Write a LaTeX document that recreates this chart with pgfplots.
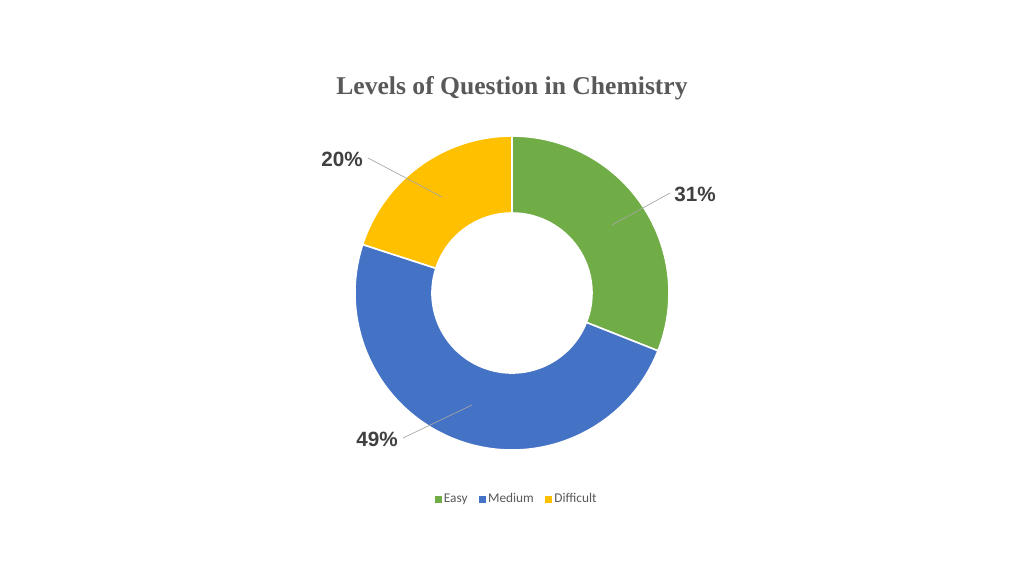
\documentclass[border=0pt]{standalone}
\usepackage{pgfplots}
\pgfplotsset{compat=1.18}
\usepackage{pgfplotstable}
\usepackage{fontspec}
\setmainfont{Liberation Sans}
\newfontfamily\titlefont{Liberation Serif}
\newfontfamily\legendfont{Carlito}
\definecolor{easy}{HTML}{70AD47}
\definecolor{medium}{HTML}{4472C4}
\definecolor{difficult}{HTML}{FFC000}
\definecolor{titlegrey}{HTML}{595959}
\definecolor{labelgrey}{HTML}{404040}
\definecolor{leadergrey}{HTML}{A6A6A6}

% share of each level, in percent
\pgfplotstableread{
label     value
Easy      31
Medium    49
Difficult 20
}\slices

\newcommand{\Ro}{117.75pt}% outer radius
\newcommand{\Ri}{60pt}%     inner radius (hole)
% start angle, end angle, colour
\newcommand{\sector}[3]{%
  \fill[#3, draw=white, line width=1.2pt]
    (axis cs:512,283) ++(#1:\Ro) arc[start angle=#1, end angle=#2, radius=\Ro]
    -- ([shift={(#2:\Ri)}]axis cs:512,283)
    arc[start angle=#2, end angle=#1, radius=\Ri] -- cycle;}

\begin{document}
\begin{tikzpicture}
\pgfplotstablegetelem{0}{value}\of\slices \let\vA\pgfplotsretval
\pgfplotstablegetelem{1}{value}\of\slices \let\vB\pgfplotsretval
\pgfplotstablegetelem{2}{value}\of\slices \let\vC\pgfplotsretval
\pgfmathsetmacro{\tot}{\vA+\vB+\vC}
\pgfmathsetmacro{\aA}{90}
\pgfmathsetmacro{\aB}{\aA-\vA/\tot*360}
\pgfmathsetmacro{\aC}{\aB-\vB/\tot*360}
\pgfmathsetmacro{\aD}{\aC-\vC/\tot*360}
\begin{axis}[
  x=0.75pt, y=0.75pt,
  xmin=0, xmax=1024, ymin=0, ymax=576,
  hide axis, clip=false,
  legend columns=-1,
  legend style={
    at={(axis cs:517,77)}, anchor=center,
    draw=none, fill=none,
    font=\legendfont\fontsize{10}{12}\selectfont,
    text=titlegrey,
    /tikz/every even column/.append style={column sep=6.5pt},
  },
]
\path[fill=white] (axis cs:0,0) rectangle (axis cs:1024,576);

\sector{\aA}{\aB}{easy}
\sector{\aB}{\aC}{medium}
\sector{\aC}{\aD}{difficult}

\addlegendimage{legend image code/.code={\fill[easy] (-1.5pt,-2.25pt) rectangle (3pt,2.25pt);}}
\addlegendentry{Easy}
\addlegendimage{legend image code/.code={\fill[medium] (-1.5pt,-2.25pt) rectangle (3pt,2.25pt);}}
\addlegendentry{Medium}
\addlegendimage{legend image code/.code={\fill[difficult] (-1.5pt,-2.25pt) rectangle (3pt,2.25pt);}}
\addlegendentry{Difficult}

% leader lines
\draw[leadergrey, line width=0.5pt] (axis cs:670,383) -- (axis cs:612,351);
\draw[leadergrey, line width=0.5pt] (axis cs:368,418) -- (axis cs:442,379);
\draw[leadergrey, line width=0.5pt] (axis cs:403,138) -- (axis cs:472,171);

% data labels
\node[labelgrey, font=\bfseries\fontsize{15.5}{18}\selectfont] at (axis cs:695,382) {31\%};
\node[labelgrey, font=\bfseries\fontsize{15.5}{18}\selectfont] at (axis cs:342,417) {20\%};
\node[labelgrey, font=\bfseries\fontsize{15.5}{18}\selectfont] at (axis cs:377,137) {49\%};

% title
\node[titlegrey, font=\titlefont\bfseries\fontsize{19.2}{23}\selectfont] at (axis cs:512,488) {Levels of Question in Chemistry};
\end{axis}
\end{tikzpicture}
\end{document}
